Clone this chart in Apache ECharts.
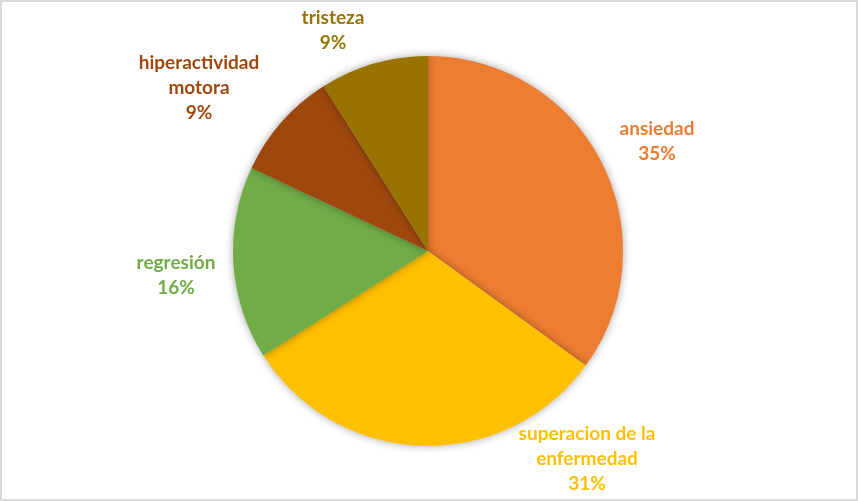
<!DOCTYPE html>
<html>
<head>
<meta charset="utf-8">
<script src="https://cdn.jsdelivr.net/npm/echarts@6/dist/echarts.min.js"></script>
<style>
html,body{margin:0;padding:0;background:#fff;}
#frame{position:absolute;left:0;top:0;width:854px;height:497px;border:2px solid #d9d9d9;background:#fff;}
#chart{width:854px;height:497px;}
</style>
</head>
<body>
<div id="frame"><div id="chart"></div></div>
<script>
const categories = ['ansiedad', 'superacion de la\nenfermedad', 'regresión', 'hiperactividad\nmotora', 'tristeza'];
const values = [35, 31, 16, 9, 9];
const colors = ['#ED7D31', '#FFC000', '#70AD47', '#9E480E', '#997300'];
// label centers (layout only, relative to the chart canvas)
const labelCenters = [[655, 139], [585, 457], [174, 273], [197, 86], [331, 28]];

const chart = echarts.init(document.getElementById('chart'));
chart.setOption({
  animation: false,
  series: [{
    type: 'pie',
    center: [426, 249],
    radius: 195,
    startAngle: 90,
    clockwise: true,
    data: categories.map((c, i) => ({
      name: c, value: values[i],
      itemStyle: { color: colors[i] },
      label: { color: colors[i] }
    })),
    itemStyle: {
      shadowBlur: 8,
      shadowColor: 'rgba(0,0,0,0.35)',
      shadowOffsetX: 0,
      shadowOffsetY: 0
    },
    label: {
      show: true,
      position: 'outside',
      formatter: p => p.name + '\n' + Math.round(p.percent) + '%',
      fontFamily: 'Lato',
      fontWeight: 'bold',
      fontSize: 19,
      lineHeight: 25,
      align: 'center'
    },
    labelLine: { show: false },
    labelLayout: function (params) {
      const c = labelCenters[params.dataIndex];
      return {
        x: c[0], y: c[1],
        align: 'center', verticalAlign: 'middle'
      };
    },
    emphasis: { disabled: true }
  }]
});
</script>
</body>
</html>
